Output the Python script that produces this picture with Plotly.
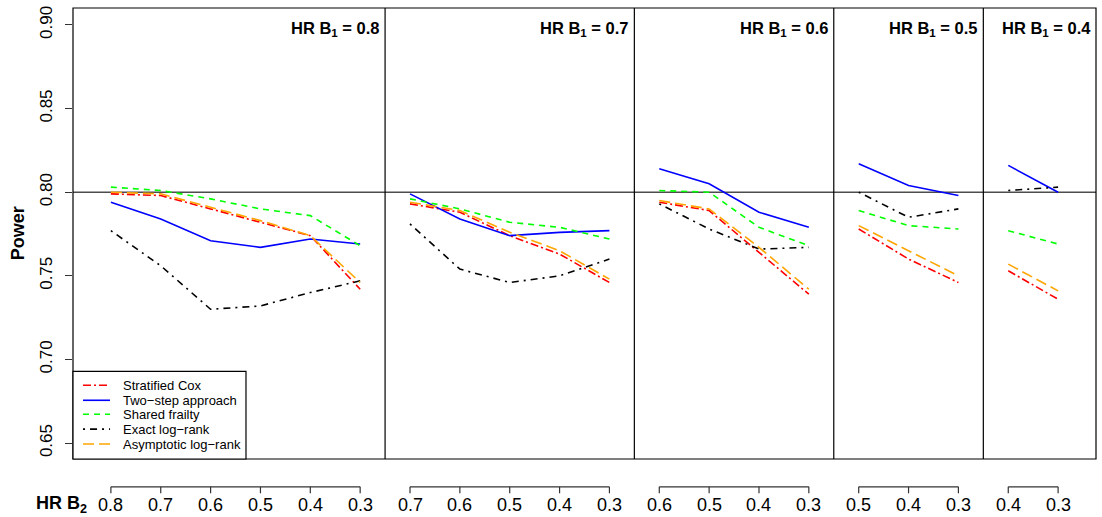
import plotly.graph_objects as go

# ---------------- data ----------------
hr_b1 = [0.8, 0.7, 0.6, 0.5, 0.4]
hr_b2 = [
    [0.8, 0.7, 0.6, 0.5, 0.4, 0.3],
    [0.7, 0.6, 0.5, 0.4, 0.3],
    [0.6, 0.5, 0.4, 0.3],
    [0.5, 0.4, 0.3],
    [0.4, 0.3],
]
stratified_cox = [
    [0.799, 0.798, 0.790, 0.782, 0.774, 0.742],
    [0.793, 0.788, 0.774, 0.763, 0.746],
    [0.794, 0.789, 0.764, 0.739],
    [0.778, 0.760, 0.746],
    [0.753, 0.736],
]
two_step = [
    [0.794, 0.784, 0.771, 0.767, 0.772, 0.769],
    [0.799, 0.784, 0.774, 0.776, 0.777],
    [0.814, 0.805, 0.788, 0.779],
    [0.817, 0.804, 0.798],
    [0.816, 0.800],
]
shared_frailty = [
    [0.803, 0.801, 0.796, 0.790, 0.786, 0.768],
    [0.796, 0.790, 0.782, 0.779, 0.772],
    [0.801, 0.800, 0.779, 0.768],
    [0.789, 0.780, 0.778],
    [0.777, 0.769],
]
exact_logrank = [
    [0.777, 0.756, 0.730, 0.732, 0.740, 0.747],
    [0.781, 0.754, 0.746, 0.750, 0.760],
    [0.793, 0.778, 0.766, 0.767],
    [0.800, 0.785, 0.790],
    [0.801, 0.803],
]
asymptotic_logrank = [
    [0.800, 0.799, 0.791, 0.783, 0.774, 0.746],
    [0.794, 0.789, 0.776, 0.765, 0.748],
    [0.795, 0.790, 0.767, 0.742],
    [0.780, 0.765, 0.750],
    [0.757, 0.741],
]
y_ticks = [0.65, 0.70, 0.75, 0.80, 0.85, 0.90]
target_power = 0.80

series = [
    ("Stratified Cox", stratified_cox, "#FF0000", "8px,3px,2px,3px"),
    ("Two\u2212step approach", two_step, "#0000FF", "solid"),
    ("Shared frailty", shared_frailty, "#00FF00", "6px,5px"),
    ("Exact log\u2212rank", exact_logrank, "#000000", "2px,5px,7px,5px"),
    ("Asymptotic log\u2212rank", asymptotic_logrank, "#FFA500", "11px,5px"),
]

# x positions: consecutive indexes across panels
panel_x = []
start = 0
for grp in hr_b2:
    panel_x.append(list(range(start, start + len(grp))))
    start += len(grp)
n_total = start
pad = 0.04 * (n_total - 1)
x_range = [-pad, n_total - 1 + pad]

FONT = "Liberation Sans, Arial, sans-serif"

fig = go.Figure()
for name, vals, color, dash in series:
    for i, (xs, ys) in enumerate(zip(panel_x, vals)):
        fig.add_trace(go.Scatter(
            x=xs, y=ys, mode="lines", name=name,
            legendgroup=name, showlegend=False,
            line=dict(color=color, width=1.6, dash=dash),
            hoverinfo="skip",
        ))

shapes = []
annotations = []
# box
shapes.append(dict(type="rect", xref="paper", yref="paper", x0=0, x1=1, y0=0, y1=1,
                   line=dict(color="black", width=1.2), layer="above"))
# target power line
shapes.append(dict(type="line", xref="paper", yref="y", x0=0, x1=1,
                   y0=target_power, y1=target_power,
                   line=dict(color="#4d4d4d", width=1.5), layer="below"))
# panel dividers, titles and bottom bracket axes
for i, xs in enumerate(panel_x):
    if i < len(panel_x) - 1:
        xd = xs[-1] + 0.5
        shapes.append(dict(type="line", xref="x", yref="paper", x0=xd, x1=xd, y0=0, y1=1,
                           line=dict(color="black", width=1.2)))
        ax = xd
    else:
        ax = x_range[1]
    annotations.append(dict(
        x=ax, xref="x", y=1, yref="paper", xanchor="right", yanchor="top",
        xshift=-3, yshift=-9, showarrow=False,
        text=f"<b>HR B<sub>1</sub> = {hr_b1[i]}</b>",
        font=dict(family=FONT, size=16.5, color="black"),
    ))
    y_line = -0.0618
    y_tick = -0.076
    shapes.append(dict(type="line", xref="x", yref="paper", x0=xs[0], x1=xs[-1],
                       y0=y_line, y1=y_line, line=dict(color="#333333", width=1.2)))
    for xv, lab in zip(xs, hr_b2[i]):
        shapes.append(dict(type="line", xref="x", yref="paper", x0=xv, x1=xv,
                           y0=y_line, y1=y_tick, line=dict(color="#333333", width=1.2)))
        annotations.append(dict(x=xv, xref="x", y=-0.1015, yref="paper",
                                xanchor="center", yanchor="middle", showarrow=False,
                                text=f"{lab:.1f}",
                                font=dict(family=FONT, size=18, color="black")))

annotations.append(dict(x=-0.0117, xref="paper", y=-0.1015, yref="paper",
                        xanchor="center", yanchor="middle", showarrow=False,
                        text="<b>HR B<sub>2</sub></b>",
                        font=dict(family=FONT, size=18, color="black")))
annotations.append(dict(x=-0.054, xref="paper", y=0.5, yref="paper",
                        xanchor="center", yanchor="middle", showarrow=False,
                        text="<b>Power</b>", textangle=-90,
                        font=dict(family=FONT, size=18, color="black")))

# legend (drawn as a key box in the bottom-left corner, like R's legend())
leg_x0, leg_x1 = 0.0, 0.1691
leg_y0, leg_y1 = 0.0, 0.1943
shapes.append(dict(type="rect", xref="paper", yref="paper", x0=leg_x0, x1=leg_x1,
                   y0=leg_y0, y1=leg_y1, fillcolor="white",
                   line=dict(color="black", width=1.2), layer="above"))
row_y = [0.1634, 0.1302, 0.0993, 0.0662, 0.0331]
for (name, _vals, color, dash), ry in zip(series, row_y):
    shapes.append(dict(type="line", xref="paper", yref="paper", x0=0.0098, x1=0.0362,
                       y0=ry, y1=ry, line=dict(color=color, width=1.6, dash=dash),
                       layer="above"))
    annotations.append(dict(x=0.0469, xref="paper", y=ry, yref="paper",
                            xanchor="left", yanchor="middle", showarrow=False,
                            text=name, font=dict(family=FONT, size=13, color="black")))

fig.update_layout(
    width=1102, height=517,
    margin=dict(l=73, r=6, t=6, b=58),
    plot_bgcolor="white", paper_bgcolor="white",
    showlegend=False,
    xaxis=dict(range=x_range, showgrid=False, zeroline=False, showticklabels=False,
               ticks="", showline=False),
    yaxis=dict(range=[0.6405, 0.9101], showgrid=False, zeroline=False,
               tickvals=y_ticks, ticktext=[f"{v:.2f}" for v in y_ticks],
               ticks="outside", ticklen=7, tickcolor="#333333", tickwidth=1.2,
               tickangle=-90, ticklabelstandoff=6,
               tickfont=dict(family=FONT, size=17, color="black"),
               showline=False),
    shapes=shapes,
    annotations=annotations,
)

fig.write_html("out.html")
